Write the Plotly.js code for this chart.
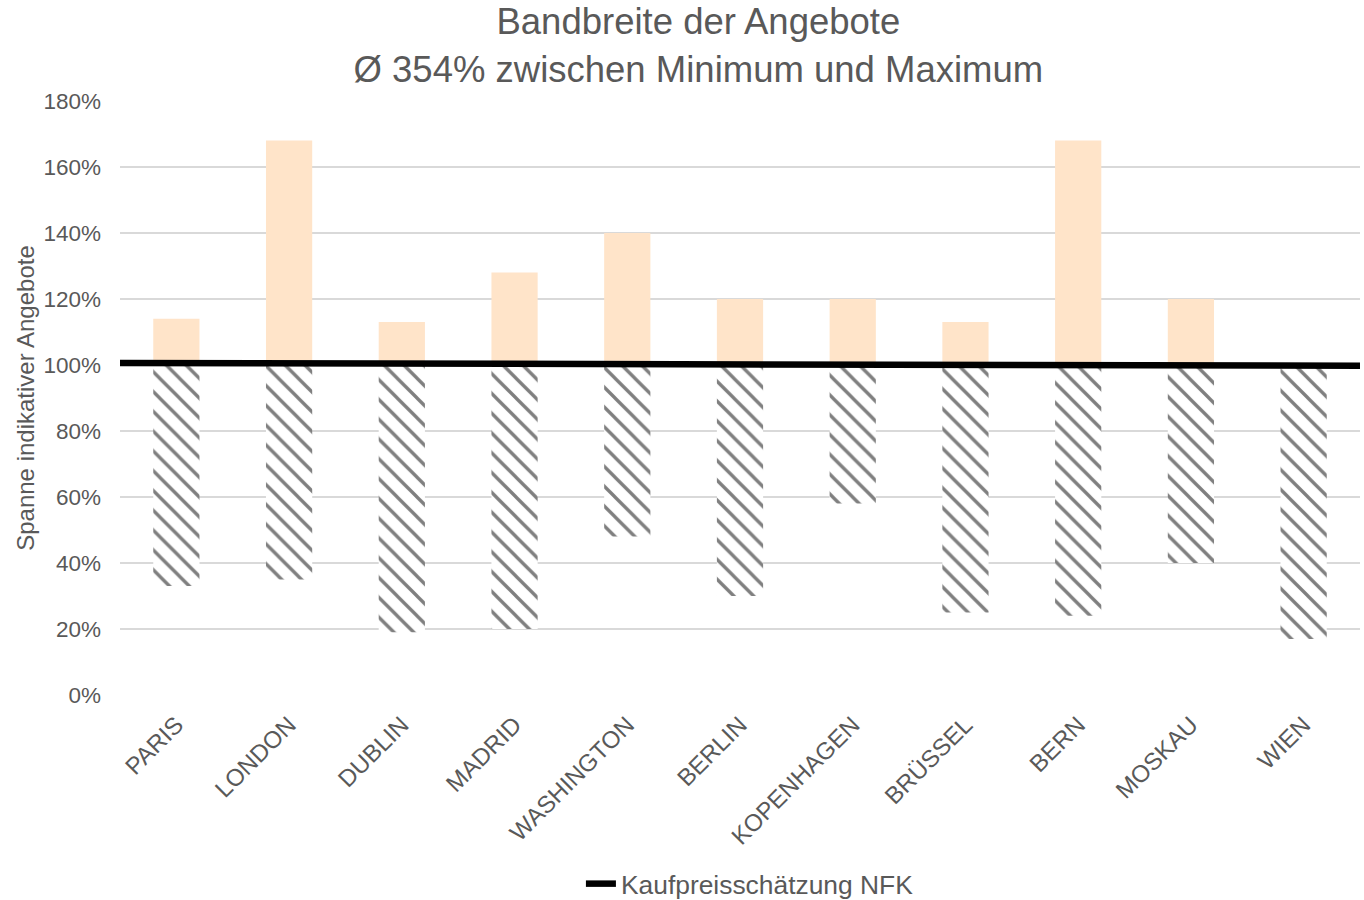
<!DOCTYPE html>
<html>
<head>
<meta charset="utf-8">
<script src="https://cdn.plot.ly/plotly-3.0.1.min.js"></script>
<style>html,body{margin:0;padding:0;background:#fff;}#chart{width:1364px;height:900px;}</style>
</head>
<body>
<div id="chart"></div>
<script>
const categories = ["PARIS","LONDON","DUBLIN","MADRID","WASHINGTON","BERLIN","KOPENHAGEN","BRÜSSEL","BERN","MOSKAU","WIEN"];
const minOffer = [33, 35, 19, 20, 48, 30, 58, 25, 24, 40, 17];
const maxOffer = [114, 168, 113, 128, 140, 120, 120, 113, 168, 120, 100];
const nfkX = [0, 1];
const nfkY = [100.6, 99.8];
const yTickVals = [0, 20, 40, 60, 80, 100, 120, 140, 160, 180];
const yTickText = ["0%","20%","40%","60%","80%","100%","120%","140%","160%","180%"];

const REF = 100;
const font = "Liberation Sans, Arial, sans-serif";
const grey = "#595959";

const lower = {
  type: "bar", x: categories,
  y: minOffer.map(v => REF - v), base: minOffer,
  width: 0.41,
  marker: {color: "#ffffff", line: {width: 0},
    pattern: {shape: "\\", fgcolor: "#7f7f7f", bgcolor: "#ffffff", size: 14, solidity: 0.24}},
  showlegend: false, hoverinfo: "skip"
};
const upper = {
  type: "bar", x: categories,
  y: maxOffer.map(v => v - REF), base: maxOffer.map(() => REF),
  width: 0.41,
  marker: {color: "#ffe4c9", line: {width: 0}},
  showlegend: false, hoverinfo: "skip"
};
const nfk = {
  type: "scatter", mode: "lines", x: nfkX, y: nfkY, xaxis: "x2",
  line: {color: "#000000", width: 6.5},
  name: "Kaufpreisschätzung NFK"
};

const layout = {
  width: 1364, height: 900,
  margin: {l: 120, r: 4, t: 101, b: 205},
  paper_bgcolor: "#ffffff", plot_bgcolor: "#ffffff",
  font: {family: font, color: grey, size: 22},
  barmode: "overlay",
  title: {text: "Bandbreite der Angebote<br>Ø 354% zwischen Minimum und Maximum",
    font: {family: font, size: 36.5, color: grey},
    x: 0.512, xref: "container", xanchor: "center", y: 0.962, yref: "container", yanchor: "top"},
  xaxis: {type: "category", tickangle: -45, tickfont: {size: 24, color: grey},
    showgrid: false, zeroline: false, showline: false, ticks: "", ticklabelstandoff: 10,
    range: [-0.5, 10.5]},
  xaxis2: {overlaying: "x", range: [0, 1], visible: false},
  yaxis: {range: [0, 180], tickvals: yTickVals, ticktext: yTickText,
    tickfont: {size: 22.5, color: grey}, showgrid: true, gridcolor: "#d9d9d9", gridwidth: 1.3,
    zeroline: false, showline: false, ticks: "", ticklabelstandoff: 18,
    title: {text: "Spanne indikativer Angebote", font: {size: 24, color: grey}, standoff: 2}},
  showlegend: true,
  legend: {orientation: "h", x: 0.508, xref: "paper", xanchor: "center",
    y: 0.0178, yref: "container", yanchor: "middle",
    font: {size: 26.4, color: grey}, bgcolor: "rgba(0,0,0,0)"}
};

Plotly.newPlot("chart", [upper, lower, nfk], layout, {displayModeBar: false, staticPlot: true});
</script>
</body>
</html>
